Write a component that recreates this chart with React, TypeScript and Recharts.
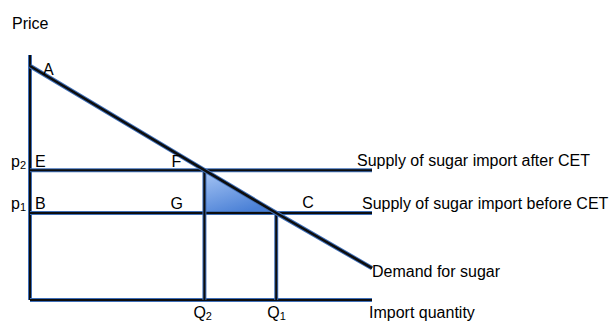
import React from "react";
import {
  ComposedChart,
  Line,
  Area,
  XAxis,
  YAxis,
  ReferenceLine,
  ReferenceDot,
} from "recharts";

// ---- data (quantity and price on 0..100 scales) ----
const demandCurve = [
  { q: 0, p: 95.5 },
  { q: 51, p: 53 },
  { q: 72, p: 35.5 },
  { q: 100, p: 13 },
];
const priceAfterCET = 53; // p2
const priceBeforeCET = 35.5; // p1
const quantityAfterCET = 51; // Q2
const quantityBeforeCET = 72; // Q1
const lossTriangle = [
  { q: 51, p: 53 },
  { q: 72, p: 35.5 },
];
const axisMax = 100;

const seriesLabels = {
  after: "Supply of sugar import after CET",
  before: "Supply of sugar import before CET",
  demand: "Demand for sugar",
  xTitle: "Import quantity",
  yTitle: "Price",
};

const BLUE = "#3f6fb8";
const BLACK = "#0d0d0d";
const FONT = "'Liberation Sans', Arial, sans-serif";
const FS = 16;

type TxtProps = { text: string; sub?: string; dx: number; dy: number };

const makeLabel =
  ({ text, sub, dx, dy }: TxtProps) =>
  (props: any) => {
    const vb = props.viewBox || {};
    const x = (vb.x ?? 0) + (vb.width ?? 0) / 2 + dx;
    const y = (vb.y ?? 0) + (vb.height ?? 0) / 2 + dy;
    return (
      <text x={x} y={y} fontFamily={FONT} fontSize={FS} fill="#000" textAnchor="start">
        {text}
        {sub ? (
          <tspan fontSize={11} dy={2}>
            {sub}
          </tspan>
        ) : null}
      </text>
    );
  };

const Dbl = (key: string, extra: any) => [
  <ReferenceLine key={key + "b"} stroke={BLUE} strokeWidth={4} ifOverflow="visible" {...extra} />,
  <ReferenceLine key={key + "k"} stroke={BLACK} strokeWidth={2} ifOverflow="visible" {...extra} />,
];

const Tag = (key: string, x: number, y: number, t: TxtProps) => (
  <ReferenceDot
    key={key}
    x={x}
    y={y}
    r={0}
    fill="none"
    stroke="none"
    ifOverflow="visible"
    label={makeLabel(t)}
  />
);

export default function App() {
  return (
    <div style={{ position: "absolute", left: 0, top: 0, width: 609, height: 322, background: "#fff" }}>
      <ComposedChart
        width={609}
        height={322}
        margin={{ top: 55, right: 237, bottom: 22, left: 30 }}
      >
        <defs>
          <linearGradient id="tri" x1="0" y1="0" x2="0.5" y2="1">
            <stop offset="0%" stopColor="#a9c7f5" />
            <stop offset="100%" stopColor="#4a80d6" />
          </linearGradient>
        </defs>
        <XAxis type="number" dataKey="q" domain={[0, axisMax]} hide />
        <YAxis type="number" dataKey="p" domain={[0, axisMax]} hide />
        <Area
          data={lossTriangle}
          dataKey="p"
          type="linear"
          baseValue={priceBeforeCET}
          stroke="none"
          fill="url(#tri)"
          fillOpacity={1}
          isAnimationActive={false}
        />
        {Dbl("ya", { x: 0 })}
        {Dbl("xa", { y: 0 })}
        {Dbl("p2", { y: priceAfterCET })}
        {Dbl("p1", { y: priceBeforeCET })}
        {Dbl("q2", {
          segment: [
            { x: quantityAfterCET, y: 0 },
            { x: quantityAfterCET, y: priceAfterCET },
          ],
        })}
        {Dbl("q1", {
          segment: [
            { x: quantityBeforeCET, y: 0 },
            { x: quantityBeforeCET, y: priceBeforeCET },
          ],
        })}
        <Line
          data={demandCurve}
          dataKey="p"
          type="linear"
          stroke={BLUE}
          strokeWidth={4.5}
          dot={false}
          activeDot={false}
          isAnimationActive={false}
        />
        <Line
          data={demandCurve}
          dataKey="p"
          type="linear"
          stroke={BLACK}
          strokeWidth={2.5}
          dot={false}
          activeDot={false}
          isAnimationActive={false}
        />
        {Tag("price", 0, axisMax, { text: seriesLabels.yTitle, dx: -18, dy: -26 })}
        {Tag("A", 0, demandCurve[0].p, { text: "A", dx: 13, dy: 9 })}
        {Tag("E", 0, priceAfterCET, { text: "E", dx: 5, dy: -3 })}
        {Tag("p2", 0, priceAfterCET, { text: "p", sub: "2", dx: -19, dy: -3 })}
        {Tag("F", quantityAfterCET, priceAfterCET, { text: "F", dx: -33, dy: -3 })}
        {Tag("B", 0, priceBeforeCET, { text: "B", dx: 5, dy: -4 })}
        {Tag("p1", 0, priceBeforeCET, { text: "p", sub: "1", dx: -19, dy: -4 })}
        {Tag("G", quantityAfterCET, priceBeforeCET, { text: "G", dx: -34, dy: -4 })}
        {Tag("C", quantityBeforeCET, priceBeforeCET, { text: "C", dx: 26, dy: -5 })}
        {Tag("after", axisMax, priceAfterCET, { text: seriesLabels.after, dx: -15, dy: -4 })}
        {Tag("before", axisMax, priceBeforeCET, { text: seriesLabels.before, dx: -10, dy: -4 })}
        {Tag("dem", axisMax, demandCurve[3].p, { text: seriesLabels.demand, dx: 0, dy: 9 })}
        {Tag("xt", axisMax, 0, { text: seriesLabels.xTitle, dx: -3, dy: 18 })}
        {Tag("Q2", quantityAfterCET, 0, { text: "Q", sub: "2", dx: -11, dy: 18 })}
        {Tag("Q1", quantityBeforeCET, 0, { text: "Q", sub: "1", dx: -9, dy: 18 })}
      </ComposedChart>
    </div>
  );
}
